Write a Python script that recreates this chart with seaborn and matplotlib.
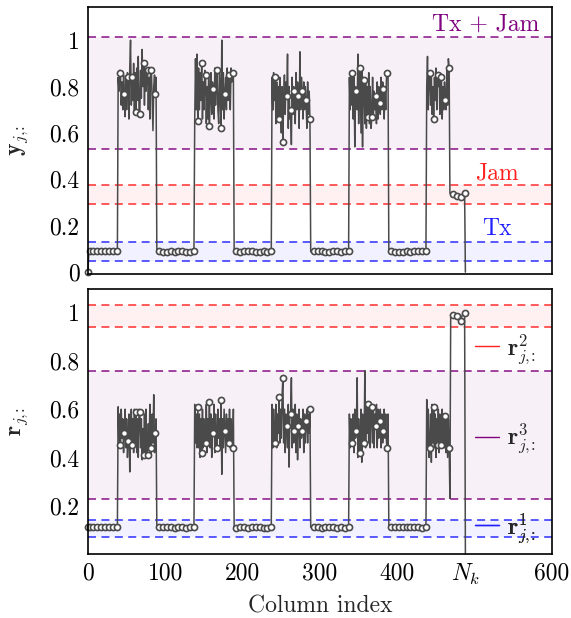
import numpy as np
import pandas as pd
import matplotlib
matplotlib.use("Agg")
import matplotlib.pyplot as plt
import seaborn as sns
from matplotlib.lines import Line2D

# ---------------- data ----------------
N_K = 488
x_ticks = [0, 100, 200, 300, 400, N_K, 600]
x_tick_labels = ["0", "100", "200", "300", "400", r"$N_k$", "600"]
y_ticks_top = [0, 0.2, 0.4, 0.6, 0.8, 1]
y_tick_labels_top = ["0", "0.2", "0.4", "0.6", "0.8", "1"]
y_ticks_bot = [0.2, 0.4, 0.6, 0.8, 1]
y_tick_labels_bot = ["0.2", "0.4", "0.6", "0.8", "1"]

# band limits (lower, upper)
top_band_tx = (0.048, 0.130)
top_band_jam = (0.294, 0.376)
top_band_txjam = (0.531, 1.014)
bot_band_r1 = (0.072, 0.140)
bot_band_r3 = (0.229, 0.760)
bot_band_r2 = (0.940, 1.030)

# ---- top panel: y_{j,:} ----
y_start = [0.0]
y_low1 = [0.088, 0.089, 0.088, 0.090, 0.089, 0.088, 0.089, 0.090, 0.088, 0.089,
          0.088, 0.089, 0.090, 0.088, 0.089, 0.088, 0.090, 0.089, 0.088, 0.089,
          0.088, 0.090, 0.089, 0.088, 0.089, 0.088, 0.090, 0.089, 0.088, 0.089,
          0.088, 0.090, 0.089, 0.088, 0.089, 0.088, 0.089, 0.090]
y_high1 = [0.84, 0.78, 0.87, 0.86, 0.72, 0.82, 0.70, 0.85, 0.77, 0.67,
           0.84, 0.70, 0.86, 0.84, 0.66, 0.88, 1.00, 0.72, 0.84, 0.74,
           0.90, 0.68, 0.86, 0.69, 0.88, 0.74, 0.93, 0.70, 0.68, 0.87,
           0.75, 0.96, 0.80, 0.90, 0.72, 0.88, 0.78, 0.86, 0.87, 0.70,
           0.84, 0.66, 0.88, 0.87, 0.74, 0.61, 0.80, 0.85, 0.77, 0.84]
y_low2 = [0.090, 0.089, 0.088, 0.090, 0.088, 0.089, 0.090, 0.088, 0.087, 0.089,
          0.090, 0.088, 0.089, 0.087, 0.090, 0.089, 0.088, 0.090, 0.089, 0.087,
          0.088, 0.090, 0.089, 0.088, 0.087, 0.089, 0.090, 0.088, 0.089, 0.090,
          0.087, 0.088, 0.090, 0.089, 0.088, 0.087, 0.089, 0.090, 0.088, 0.089,
          0.088, 0.090, 0.089, 0.087, 0.088, 0.090, 0.089, 0.088, 0.089]
y_high2 = [0.66, 0.92, 0.70, 0.94, 0.65, 0.88, 0.70, 0.86, 0.74, 0.90,
           0.66, 0.82, 0.70, 0.87, 0.85, 0.64, 0.80, 0.66, 0.84, 0.63,
           0.76, 0.86, 0.68, 0.82, 0.79, 0.66, 0.88, 0.72, 0.84, 0.87,
           0.70, 0.64, 0.86, 0.78, 0.62, 1.00, 0.70, 0.86, 0.66, 0.77,
           0.84, 0.70, 0.88, 0.74, 0.85, 0.80, 0.70, 0.88, 0.82, 0.86,
           0.84]
y_low3 = [0.089, 0.088, 0.090, 0.089, 0.087, 0.088, 0.090, 0.089, 0.088, 0.089,
          0.090, 0.088, 0.087, 0.089, 0.090, 0.088, 0.089, 0.088, 0.090, 0.089,
          0.087, 0.088, 0.089, 0.090, 0.088, 0.089, 0.088, 0.090, 0.087, 0.089,
          0.088, 0.090, 0.089, 0.088, 0.089, 0.087, 0.090, 0.088, 0.089, 0.088,
          0.090, 0.089, 0.088, 0.087, 0.089, 0.090, 0.088, 0.089, 0.090]
y_high3 = [0.84, 0.70, 0.86, 0.74, 0.84, 0.64, 0.82, 0.66, 0.80, 0.66,
           0.84, 0.70, 0.60, 0.80, 0.56, 0.76, 0.85, 0.68, 0.82, 0.76,
           0.94, 0.62, 0.80, 0.66, 0.70, 0.55, 0.84, 0.68, 0.80, 0.78,
           0.64, 0.86, 0.70, 0.82, 0.76, 0.62, 0.95, 0.70, 0.84, 0.78,
           0.66, 0.82, 0.70, 0.80, 0.74, 0.62, 0.82, 0.68, 0.78, 0.66]
y_low4 = [0.088, 0.089, 0.090, 0.088, 0.089, 0.087, 0.090, 0.089, 0.088, 0.090,
          0.089, 0.088, 0.087, 0.089, 0.090, 0.088, 0.089, 0.090, 0.088, 0.087,
          0.089, 0.090, 0.088, 0.089, 0.088, 0.090, 0.089, 0.087, 0.088, 0.089,
          0.090, 0.088, 0.089, 0.087, 0.090, 0.089, 0.088, 0.090, 0.089, 0.088,
          0.087, 0.089, 0.090, 0.088, 0.089, 0.088, 0.090, 0.089, 0.088, 0.090]
y_high4 = [0.84, 0.70, 0.86, 0.72, 0.86, 0.66, 0.84, 0.54, 0.80, 0.78,
           0.70, 0.94, 0.64, 0.86, 0.88, 0.60, 0.88, 0.54, 0.84, 0.83,
           0.64, 0.82, 0.62, 0.80, 0.67, 0.86, 0.64, 0.80, 0.62, 0.67,
           0.84, 0.66, 0.78, 0.70, 0.76, 0.64, 0.82, 0.66, 0.80, 0.73,
           0.68, 0.84, 0.70, 0.82, 0.79, 0.66, 0.80, 0.70, 0.84, 0.86,
           0.84]
y_low5 = [0.089, 0.090, 0.088, 0.089, 0.088, 0.090, 0.089, 0.087, 0.088, 0.089,
          0.090, 0.088, 0.089, 0.088, 0.090, 0.089, 0.087, 0.089, 0.088, 0.090,
          0.089, 0.088, 0.090, 0.089, 0.087, 0.088, 0.089, 0.090, 0.088, 0.089,
          0.088, 0.090, 0.087, 0.089, 0.088, 0.090, 0.089, 0.088, 0.089, 0.090,
          0.088, 0.087, 0.089, 0.090, 0.088, 0.089, 0.088, 0.090, 0.089]
y_high5 = [0.80, 0.93, 0.70, 0.86, 0.86, 0.72, 0.84, 0.68, 0.80, 0.66,
           0.84, 0.74, 0.88, 0.70, 0.85, 0.80, 0.86, 0.68, 0.82, 0.84,
           0.66, 0.80, 0.70, 0.82, 0.74, 0.70, 0.88, 0.72, 0.92, 0.88]
y_jam = [0.340, 0.336, 0.335, 0.335, 0.335, 0.333, 0.332, 0.331, 0.330, 0.330,
         0.328, 0.327, 0.326, 0.325, 0.325, 0.330, 0.335, 0.340, 0.342, 0.342]
y_end = [0.0]

# ---- bottom panel: r_{j,:} ----
r_low1 = [0.111, 0.110, 0.112, 0.111, 0.110, 0.111, 0.112, 0.110, 0.111, 0.110,
          0.111, 0.112, 0.110, 0.111, 0.110, 0.112, 0.111, 0.110, 0.111, 0.112,
          0.110, 0.111, 0.110, 0.112, 0.111, 0.110, 0.111, 0.112, 0.110, 0.111,
          0.110, 0.112, 0.111, 0.110, 0.111, 0.112, 0.110, 0.111, 0.110]
r_high1 = [0.61, 0.44, 0.58, 0.45, 0.60, 0.48, 0.56, 0.42, 0.50, 0.60,
           0.44, 0.56, 0.40, 0.47, 0.58, 0.34, 0.52, 0.60, 0.45, 0.56,
           0.42, 0.60, 0.46, 0.59, 0.42, 0.56, 0.40, 0.60, 0.59, 0.44,
           0.56, 0.39, 0.52, 0.41, 0.58, 0.42, 0.60, 0.40, 0.41, 0.54,
           0.44, 0.62, 0.40, 0.44, 0.58, 0.46, 0.66, 0.42, 0.50, 0.56]
r_low2 = [0.112, 0.110, 0.108, 0.111, 0.113, 0.109, 0.110, 0.114, 0.111, 0.108,
          0.110, 0.112, 0.109, 0.111, 0.110, 0.113, 0.108, 0.110, 0.112, 0.111,
          0.109, 0.113, 0.110, 0.108, 0.111, 0.112, 0.110, 0.109, 0.113, 0.110,
          0.111, 0.108, 0.112, 0.110, 0.109, 0.111, 0.113, 0.110, 0.108, 0.111,
          0.112, 0.110, 0.109, 0.111, 0.113, 0.110, 0.108, 0.111, 0.110]
r_high2 = [0.62, 0.46, 0.58, 0.44, 0.61, 0.44, 0.58, 0.40, 0.56, 0.42,
           0.60, 0.44, 0.56, 0.48, 0.46, 0.62, 0.42, 0.56, 0.46, 0.63,
           0.44, 0.58, 0.40, 0.56, 0.50, 0.62, 0.42, 0.58, 0.46, 0.44,
           0.60, 0.48, 0.56, 0.44, 0.64, 0.33, 0.56, 0.44, 0.60, 0.51,
           0.42, 0.58, 0.46, 0.56, 0.46, 0.60, 0.44, 0.56, 0.48, 0.44,
           0.60]
r_low3 = [0.110, 0.109, 0.111, 0.108, 0.110, 0.112, 0.109, 0.107, 0.110, 0.111,
          0.108, 0.106, 0.109, 0.111, 0.110, 0.108, 0.112, 0.110, 0.109, 0.111,
          0.110, 0.108, 0.109, 0.111, 0.110, 0.112, 0.109, 0.108, 0.110, 0.111,
          0.109, 0.110, 0.108, 0.111, 0.110, 0.109, 0.112, 0.110, 0.108, 0.111,
          0.110, 0.109, 0.111, 0.108, 0.110, 0.112, 0.109, 0.110, 0.111]
r_high3 = [0.62, 0.44, 0.60, 0.48, 0.46, 0.62, 0.44, 0.58, 0.50, 0.65,
           0.46, 0.60, 0.48, 0.66, 0.73, 0.46, 0.60, 0.42, 0.58, 0.53,
           0.44, 0.62, 0.36, 0.56, 0.58, 0.73, 0.44, 0.60, 0.46, 0.51,
           0.62, 0.42, 0.58, 0.39, 0.53, 0.60, 0.44, 0.56, 0.48, 0.51,
           0.60, 0.42, 0.58, 0.46, 0.55, 0.60, 0.46, 0.58, 0.50, 0.60]
r_low4 = [0.111, 0.110, 0.112, 0.109, 0.111, 0.110, 0.108, 0.111, 0.112, 0.110,
          0.109, 0.111, 0.110, 0.112, 0.108, 0.110, 0.111, 0.109, 0.110, 0.112,
          0.111, 0.109, 0.110, 0.108, 0.111, 0.112, 0.110, 0.109, 0.111, 0.110,
          0.112, 0.108, 0.110, 0.111, 0.109, 0.110, 0.112, 0.111, 0.109, 0.110,
          0.108, 0.111, 0.110, 0.112, 0.109, 0.107, 0.106, 0.108, 0.110, 0.112]
r_high4 = [0.58, 0.44, 0.56, 0.46, 0.46, 0.58, 0.42, 0.60, 0.48, 0.51,
           0.73, 0.40, 0.56, 0.44, 0.42, 0.60, 0.38, 0.58, 0.46, 0.46,
           0.76, 0.44, 0.62, 0.50, 0.62, 0.46, 0.62, 0.44, 0.60, 0.61,
           0.46, 0.60, 0.44, 0.58, 0.53, 0.62, 0.44, 0.60, 0.48, 0.55,
           0.60, 0.44, 0.58, 0.46, 0.51, 0.60, 0.48, 0.58, 0.46, 0.44,
           0.58]
r_low5 = [0.110, 0.111, 0.112, 0.110, 0.109, 0.111, 0.110, 0.112, 0.111, 0.110,
          0.109, 0.111, 0.112, 0.110, 0.111, 0.109, 0.110, 0.112, 0.111, 0.110,
          0.111, 0.109, 0.110, 0.112, 0.111, 0.110, 0.109, 0.111, 0.110, 0.112,
          0.111, 0.110, 0.109, 0.111, 0.112, 0.110, 0.111, 0.109, 0.110, 0.112,
          0.111, 0.110, 0.109, 0.107, 0.106, 0.108, 0.110, 0.111, 0.112]
r_high5 = [0.64, 0.44, 0.60, 0.40, 0.44, 0.58, 0.38, 0.62, 0.46, 0.61,
           0.44, 0.58, 0.40, 0.56, 0.45, 0.60, 0.42, 0.58, 0.44, 0.45,
           0.60, 0.46, 0.58, 0.44, 0.57, 0.42, 0.56, 0.40, 0.56, 0.44]
r_jam = [0.23, 0.990, 0.990, 0.990, 0.989, 0.988, 0.987, 0.986, 0.986, 0.986,
         0.975, 0.970, 0.968, 0.966, 0.966, 0.980, 0.990, 0.995, 1.000, 1.000]
r_end = [0.0]

y_values = (y_start + y_low1 + y_high1 + y_low2 + y_high2 + y_low3 + y_high3
            + y_low4 + y_high4 + y_low5 + y_high5 + y_jam + y_end)
r_values = (r_low1 + r_high1 + r_low2 + r_high2 + r_low3 + r_high3
            + r_low4 + r_high4 + r_low5 + r_high5 + r_jam + r_end)

df_y = pd.DataFrame({"col": np.arange(len(y_values)), "val": y_values})
df_r = pd.DataFrame({"col": np.arange(len(r_values)), "val": r_values})

# ---------------- style ----------------
sns.set_style("white")
plt.rcParams.update({
    "font.family": "serif",
    "font.serif": ["cmr10"],
    "mathtext.fontset": "cm",
    "axes.formatter.use_mathtext": True,
    "axes.unicode_minus": False,
    "font.size": 17,
})

LINE_C = "#4a4a4a"
PURPLE = "#800080"
RED = "#ff2020"
BLUE = "#2020ff"
FS = 17

fig = plt.figure(figsize=(5.71, 6.18), dpi=100)
ax_top = fig.add_axes([88 / 571, 1 - 274 / 618, 464 / 571, 267 / 618])
ax_bot = fig.add_axes([88 / 571, 1 - 554 / 618, 464 / 571, 265.5 / 618])


def draw_band(ax, band, color):
    lo, hi = band
    ax.axhspan(lo, hi, color=color, alpha=0.06, lw=0, zorder=0.5)
    for v in (lo, hi):
        ax.axhline(v, color=color, lw=1.15, alpha=0.9,
                   ls=(0, (5, 3.4)), zorder=1)


def draw_series(ax, df):
    n = len(df)
    mk = [0] + list(range(2, n - 1, 5))
    sns.lineplot(data=df, x="col", y="val", ax=ax, estimator=None, sort=False,
                 color=LINE_C, lw=1.1, marker="o", markevery=mk,
                 markersize=4.4, markerfacecolor="white",
                 markeredgecolor=LINE_C, markeredgewidth=1.2,
                 clip_on=False, zorder=3)


draw_band(ax_top, top_band_txjam, PURPLE)
draw_band(ax_top, top_band_jam, RED)
draw_band(ax_top, top_band_tx, BLUE)
draw_series(ax_top, df_y)

draw_band(ax_bot, bot_band_r2, RED)
draw_band(ax_bot, bot_band_r3, PURPLE)
draw_band(ax_bot, bot_band_r1, BLUE)
draw_series(ax_bot, df_r)

for ax in (ax_top, ax_bot):
    ax.set_xlim(0, 600)
    ax.set_xticks(x_ticks)
    ax.tick_params(axis="both", which="major", direction="in", length=8,
                   width=0.8, color="0.55", labelsize=FS, pad=6,
                   top=False, right=False, labelcolor="black")
    for s in ax.spines.values():
        s.set_color("black")
        s.set_linewidth(1.2)
        s.set_zorder(4)
    ax.set_facecolor("white")

ax_top.set_ylim(-0.008, 1.143)
ax_top.set_yticks(y_ticks_top, y_tick_labels_top)
ax_top.set_xticklabels([])
ax_top.set_xlabel("")
ax_top.set_ylabel(r"$\mathbf{y}_{j,\!\!:}$", fontsize=FS)
ax_top.yaxis.set_label_coords(-0.125, 0.5)

ax_bot.set_ylim(0, 1.1)
ax_bot.set_yticks(y_ticks_bot, y_tick_labels_bot)
ax_bot.set_xticklabels(x_tick_labels)
ax_bot.set_xlabel("Column index", fontsize=FS, labelpad=6)
ax_bot.set_ylabel(r"$\mathbf{r}_{j,\!\!:}$", fontsize=FS)
ax_bot.yaxis.set_label_coords(-0.125, 0.5)

# band labels in the top panel
ax_top.text(584, 1.066, "Tx + Jam", color=PURPLE, ha="right", va="center",
            fontsize=FS)
ax_top.text(557, 0.427, "Jam", color=RED, ha="right", va="center",
            fontsize=FS)
ax_top.text(548, 0.186, "Tx", color=BLUE, ha="right", va="center",
            fontsize=FS)

# legend entries in the bottom panel
legend_entries = [(RED, r"$\mathbf{r}^2_{j,\!\!:}$", 0.772),
                  (PURPLE, r"$\mathbf{r}^3_{j,\!\!:}$", 0.433),
                  (BLUE, r"$\mathbf{r}^1_{j,\!\!:}$", 0.098)]
for color, label, ypos in legend_entries:
    h = Line2D([], [], color=color, lw=1.0)
    leg = ax_bot.legend([h], [label], loc="center left",
                        bbox_to_anchor=(0.834, ypos), frameon=False,
                        fontsize=FS, handlelength=1.0, handletextpad=0.35,
                        borderpad=0, borderaxespad=0)
    ax_bot.add_artist(leg)

fig.savefig("out.png", dpi=100)
